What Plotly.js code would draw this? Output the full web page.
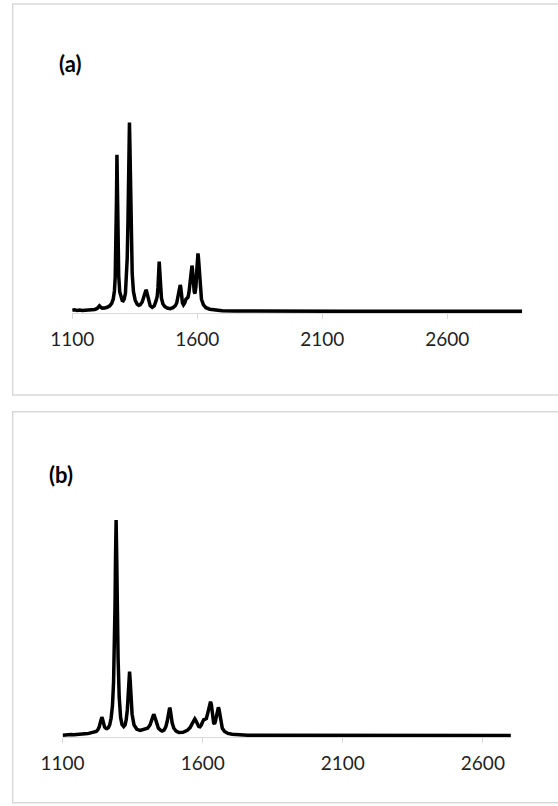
<!DOCTYPE html>
<html>
<head>
<meta charset="utf-8">
<script src="https://cdn.plot.ly/plotly-3.0.1.min.js"></script>
<style>html,body{margin:0;padding:0;background:#fff;}#chart{width:558px;height:806px;}</style>
</head>
<body>
<div id="chart"></div>
<script>
// ---- Data ----
const tickVals = [1100, 1600, 2100, 2600];
const tickText = ["1100", "1600", "2100", "2600"];

// Panel (a) spectrum: wavenumber / relative intensity
const waveA = [1100,1110,1120,1130,1140,1150,1160,1170,1180,1190,1200,1205,1209,1213,1220,1230,1240,1250,1258,1264,1269,1272,1275,1277,1279,1281,1283,1286,1290,1295,1300,1304,1308,1313,1317,1320,1323,1325,1327,1329,1331,1333,1336,1340,1345,1352,1360,1366,1372,1380,1386,1390,1393,1395,1397,1400,1405,1412,1420,1428,1435,1440,1443,1446,1448,1450,1453,1457,1463,1470,1480,1492,1503,1512,1518,1523,1527,1530,1532,1534,1537,1541,1545,1550,1555,1559,1563,1567,1571,1574,1577,1579,1581,1584,1588,1591,1595,1598,1601,1603,1605,1608,1612,1617,1625,1635,1650,1670,1700,1750,1800,2000,2200,2400,2600,2800,2900];
const intA = [0.6,0.9,0.5,0.8,0.5,0.6,0.7,0.8,0.9,1.1,1.6,2.4,3.0,2.4,1.8,1.9,2.2,3.0,4.3,6.5,11,18,34,58,83,60,36,19,10.5,7.2,5.8,5.6,6.5,9.8,17,28,47,66,89,100,87,64,38,20,10.5,6,3.8,3.3,3.6,5,7.5,9.5,11,11.4,11,9.5,6,3,2.2,3,5.5,8,12.5,21,26.4,22,12.5,7,4,2.6,1.8,1.5,2,3,4.5,7.5,11,13.5,14,13,8,4.5,3.5,4.5,6.5,7,7.5,10,14,19.5,23.5,24.3,22.5,15,10.5,9.5,13,21,29.5,30.8,28.5,21,12,6.5,3.5,2,1.2,0.7,0.4,0.25,0.2,0.1,0.1,0.1,0.1,0.1,0.1];

// Panel (b) spectrum
const waveB = [1100,1110,1120,1130,1140,1150,1160,1170,1180,1190,1200,1210,1220,1226,1231,1235,1238,1240,1242,1245,1250,1255,1258,1263,1268,1273,1278,1282,1285,1287,1289,1291,1293,1295,1298,1302,1307,1312,1318,1323,1327,1331,1334,1337,1339,1341,1344,1348,1355,1365,1377,1390,1403,1412,1417,1421,1423,1425,1427,1430,1435,1442,1450,1455,1462,1468,1473,1477,1480,1482,1484,1487,1491,1497,1505,1515,1521,1530,1545,1555,1562,1567,1570,1572,1575,1580,1586,1590,1595,1600,1604,1608,1613,1618,1622,1625,1628,1631,1635,1639,1642,1645,1649,1652,1654,1656,1658,1661,1665,1670,1678,1690,1705,1730,1760,1800,2000,2200,2400,2600,2700];
const intB = [0.3,0.5,0.4,0.6,0.5,0.7,0.6,0.8,0.9,1.0,1.2,1.5,2.0,2.8,4.2,6.3,8.0,8.6,8.0,6.0,4.0,3.4,3.3,3.7,5,8,14,25,42,60,84,100,84,60,36,18,8.5,5.2,4.3,5,7.5,12,18,26,29.7,26,17,10,5,3,2.5,2.8,3.5,5,7,9.2,9.8,10,9.5,8,5.5,3.5,2.5,2.2,2.6,4,6.5,9.5,12.3,13,12.3,9.5,6,3.5,2.2,1.5,1.4,1.6,2.5,3.8,5.5,7,7.6,7.8,7.2,5.5,4.3,4.2,5,6.5,7.5,7.6,8,10.5,13.5,15.2,15.8,14.5,9,6,5.5,6.5,9,12,13,13.2,12.5,9.5,6,3.5,2,1.1,0.7,0.4,0.3,0.2,0.1,0.1,0.1,0.1,0.1];

// ---- Figure ----
const W = 558, H = 806;
const px = v => v / W;          // horizontal pixel -> paper
const py = v => 1 - v / H;      // vertical pixel -> paper

const lineStyle = {color: '#000000', width: 3.5};
const traces = [
  {x: waveA, y: intA, type: 'scatter', mode: 'lines', line: lineStyle, xaxis: 'x', yaxis: 'y', hoverinfo: 'skip'},
  {x: waveB, y: intB, type: 'scatter', mode: 'lines', line: lineStyle, xaxis: 'x2', yaxis: 'y2', hoverinfo: 'skip'}
];

const tickFont = {family: 'Lato, "Open Sans", sans-serif', size: 19, color: '#1f1f1f'};
function xAxis(domain, range, anchor) {
  return {
    domain: domain, range: range, anchor: anchor,
    tickmode: 'array', tickvals: tickVals, ticktext: tickText,
    showline: true, linecolor: '#d9d9d9', linewidth: 1,
    ticks: 'outside', ticklen: 5, tickcolor: '#d9d9d9', tickwidth: 1,
    showgrid: false, zeroline: false, tickfont: tickFont,
    ticklabelstandoff: 4, layer: 'below traces', fixedrange: true
  };
}
function yAxis(domain, range) {
  return {domain: domain, range: range, visible: false, showgrid: false, zeroline: false, fixedrange: true};
}

const labelFont = {family: 'Lato, "Open Sans", sans-serif', size: 22, weight: 700, color: '#000'};
const layout = {
  width: W, height: H,
  margin: {l: 0, r: 0, t: 0, b: 0, pad: 0},
  paper_bgcolor: '#ffffff', plot_bgcolor: 'rgba(0,0,0,0)',
  showlegend: false,
  xaxis: xAxis([px(72.2), px(522.2)], [1100, 2900], 'y'),
  yaxis: yAxis([py(313), py(66)], [-0.8, 130]),
  xaxis2: xAxis([px(62.6), px(510.9)], [1100, 2700], 'y2'),
  yaxis2: yAxis([py(737.3), py(498.4)], [-0.7, 110]),
  shapes: [
    {type: 'rect', xref: 'paper', yref: 'paper', x0: px(12.7), x1: 1.02, y0: py(395), y1: py(4),
     line: {color: '#d9d9d9', width: 1.5}, fillcolor: 'rgba(0,0,0,0)', layer: 'below'},
    {type: 'rect', xref: 'paper', yref: 'paper', x0: px(12.7), x1: 1.02, y0: py(802.7), y1: py(411.7),
     line: {color: '#d9d9d9', width: 1.5}, fillcolor: 'rgba(0,0,0,0)', layer: 'below'}
  ],
  annotations: [
    {text: '(a)', xref: 'paper', yref: 'paper', x: px(70), y: py(64), xanchor: 'center', yanchor: 'middle',
     showarrow: false, font: labelFont},
    {text: '(b)', xref: 'paper', yref: 'paper', x: px(61), y: py(474), xanchor: 'center', yanchor: 'middle',
     showarrow: false, font: labelFont}
  ]
};

Plotly.newPlot('chart', traces, layout, {staticPlot: true, displayModeBar: false});
</script>
</body>
</html>
